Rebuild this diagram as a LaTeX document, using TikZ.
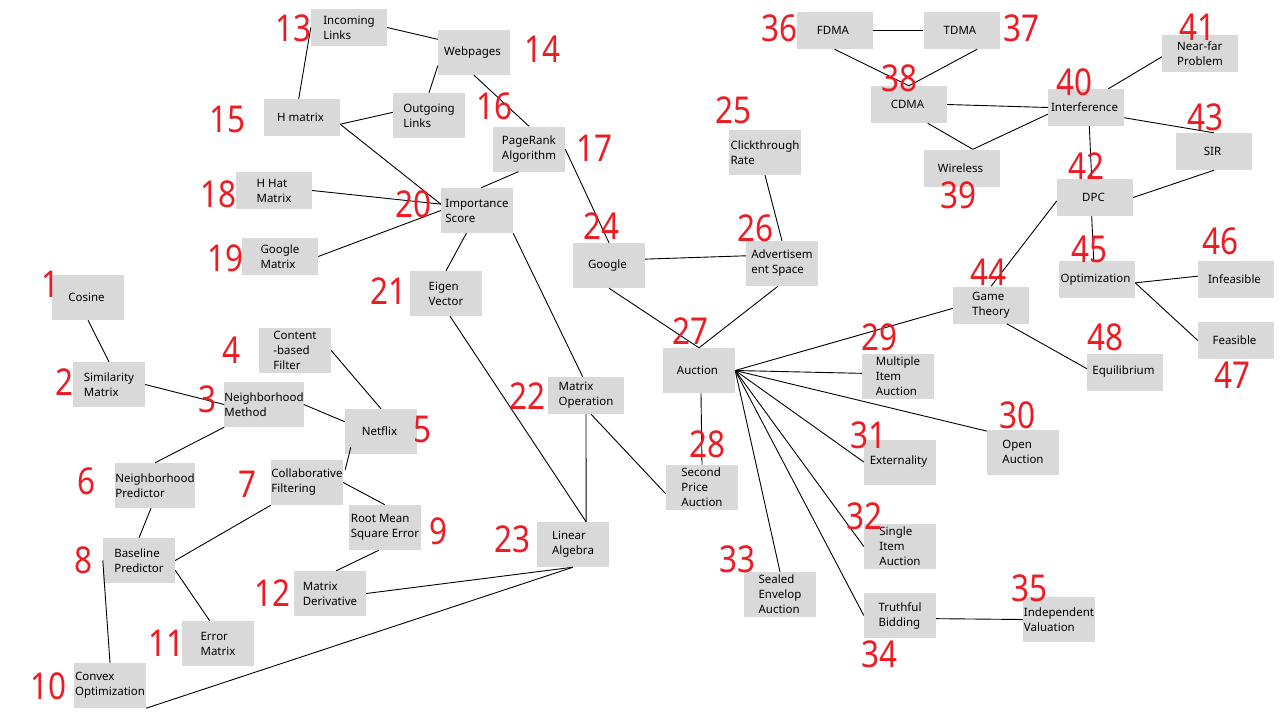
\documentclass[tikz,border=0pt]{standalone}
\usepackage{fontspec}
\setmainfont{Noto Sans}
\newfontfamily\numfont[FakeStretch=0.85]{Noto Sans}
\usepackage{tikz}
\usetikzlibrary{calc}

\definecolor{boxgray}{RGB}{217,217,217}
\definecolor{numred}{RGB}{237,28,36}

\begin{document}
\begin{tikzpicture}[x = 1pt, y = -1pt,
    box/.style = { fill = boxgray, minimum width = 72pt, minimum height = 45pt, inner sep = 0pt, align = left, font = \fontsize{11.5}{15}\selectfont },
    sbox/.style = { box, minimum width = 76pt, minimum height = 37pt },
    num/.style = { text = numred, inner sep = 0pt, font = \numfont\fontsize{37}{37}\selectfont },
    conn/.style = { line width = .9pt }]
    \fill[white] (0,0) rectangle (1280,720);
    \useasboundingbox (0,0) rectangle (1280,720);

    \node[box] (cos) at (88,297.5) { Cosine };
    \node[box] (sim) at (109,384.5) { Similarity\\Matrix };
    \node[box] (nbm) at (264,404.5) { Neighborhood\\Method };
    \node[box] (cbf) at (295,350.5) { Content\\-based\\Filter };
    \node[box] (nfx) at (381,431.5) { Netflix };
    \node[box] (nbp) at (155,485.5) { Neighborhood\\Predictor };
    \node[box] (cf) at (307,482.5) { Collaborative\\Filtering };
    \node[box] (blp) at (139,560.5) { Baseline\\Predictor };
    \node[box] (rmse) at (385,527.5) { Root Mean\\Square Error };
    \node[box] (cvx) at (110,685.5) { Convex\\Optimization };
    \node[box] (err) at (218,643.5) { Error\\Matrix };
    \node[box] (mder) at (330,593.5) { Matrix\\Derivative };
    \node[sbox] (inc) at (349,27.5) { Incoming\\Links };
    \node[box] (web) at (474,52.5) { Webpages };
    \node[sbox] (hmat) at (302,117.5) { H matrix };
    \node[box] (out) at (429,115.5) { Outgoing\\Links };
    \node[box] (prk) at (529,149) { PageRank\\Algorithm };
    \node[sbox] (hhat) at (274,190.5) { H Hat\\Matrix };
    \node[sbox] (gmat) at (280,256.5) { Google\\Matrix };
    \node[box] (imp) at (477,210.5) { Importance\\Score };
    \node[box] (eig) at (446,293.5) { Eigen\\Vector };
    \node[sbox] (mop) at (586,395.5) { Matrix\\Operation };
    \node[box] (lin) at (573,544.5) { Linear\\Algebra };
    \node[box] (ggl) at (609,265.5) { Google };
    \node[box] (ctr) at (765,152.5) { Clickthrough\\Rate };
    \node[box] (ads) at (782,263.5) { Advertisem\\ent Space };
    \node[box] (auc) at (699,370.5) { Auction };
    \node[box] (spa) at (702,487.5) { Second\\Price\\Auction };
    \node[box] (mia) at (898,376.5) { Multiple\\Item\\Auction };
    \node[box] (opa) at (1023,452) { Open\\Auction };
    \node[box] (ext) at (900,462) { Externality };
    \node[box] (sia) at (900,546.5) { Single\\Item\\Auction };
    \node[box] (sea) at (780,594.5) { Sealed\\Envelop\\Auction };
    \node[box] (tru) at (900,615.5) { Truthful\\Bidding };
    \node[box] (ind) at (1059,619.5) { Independent\\Valuation };
    \node[sbox] (fdma) at (834.5,30.5) { FDMA };
    \node[sbox] (tdma) at (961.5,30.5) { TDMA };
    \node[sbox] (cdma) at (909,104.5) { CDMA };
    \node[sbox] (wir) at (962,168) { Wireless };
    \node[sbox] (intf) at (1086,107.5) { Interference };
    \node[sbox] (nfp) at (1200,53.5) { Near-far\\Problem };
    \node[sbox] (dpc) at (1095,197.5) { DPC };
    \node[sbox] (sir) at (1214,151.5) { SIR };
    \node[sbox] (game) at (991,305) { Game\\Theory };
    \node[sbox] (opt) at (1097,279.5) { Optimization };
    \node[sbox] (infs) at (1236,279.5) { Infeasible };
    \node[sbox] (feas) at (1236,340.5) { Feasible };
    \node[sbox] (equ) at (1125,372) { Equilibrium };

    \draw[conn] (cos.south) -- (sim.north);
    \draw[conn] (sim.east) -- (nbm.west);
    \draw[conn] (nbm.east) -- (nfx.165);
    \draw[conn] (nbm.south west) -- (nbp.north);
    \draw[conn] (cbf.east) -- (nfx.north);
    \draw[conn] ($(nfx.south west)+(6,-7)$) -- ($(cf.north east)+(2,10)$);
    \draw[conn] (cf.south west) -- (blp.east);
    \draw[conn] (cf.east) -- (rmse.north);
    \draw[conn] (nbp.-100) -- (blp.north);
    \draw[conn] (blp.-15) -- (err.110);
    \draw[conn] (blp.west) -- (cvx.north);
    \draw[conn] (rmse.-105) -- (mder.75);
    \draw[conn] (mder.east) -- (lin.south);
    \draw[conn] (cvx.south east) -- (lin.south);
    \draw[conn] (inc.west) -- (hmat.100);
    \draw[conn] (inc.east) -- (web.160);
    \draw[conn] (web.200) -- (out.north);
    \draw[conn] (web.south) -- (prk.north);
    \draw[conn] (hmat.-10) -- (out.175);
    \draw[conn] (hmat.-10) -- (imp.170);
    \draw[conn] (hhat.east) -- (imp.170);
    \draw[conn] (gmat.east) -- (imp.west);
    \draw[conn] (prk.-115) -- (imp.80);
    \draw[conn] (prk.east) -- (ggl.north);
    \draw[conn] (imp.-115) -- (eig.north);
    \draw[conn] (imp.south east) -- (mop.100);
    \draw[conn] (eig.-80) -- (lin.60);
    \draw[conn] (mop.south) -- (lin.60);
    \draw[conn] (mop.-75) -- (spa.190);
    \draw[conn] (ggl.10) -- (ads.168);
    \draw[conn] (ggl.south) -- (auc.north);
    \draw[conn] (ctr.south) -- (ads.north);
    \draw[conn] (ads.-100) -- (auc.north);
    \draw[conn] (auc.-85) -- (spa.north);
    \foreach \t/\a in {game/185, mia/175, opa/150, ext/west, sia/west, tru/west, sea/north}
      \draw[conn] (auc.east) -- (\t.\a);
    \draw[conn] (tru.-5) -- (ind.west);
    \draw[conn] (fdma.east) -- (tdma.west);
    \draw[conn] (fdma.south) -- (cdma.north);
    \draw[conn] (tdma.-50) -- (cdma.north);
    \draw[conn] (cdma.east) -- (intf.west);
    \draw[conn] (cdma.-45) -- (wir.60);
    \draw[conn] (wir.60) -- (intf.190);
    \draw[conn] (intf.40) -- (nfp.185);
    \draw[conn] (intf.-15) -- (sir.north);
    \draw[conn] (intf.-80) -- (dpc.100);
    \draw[conn] (dpc.east) -- (sir.south);
    \draw[conn] (dpc.185) -- (game.north);
    \draw[conn] (dpc.-100) -- (opt.100);
    \draw[conn] (game.-50) -- (equ.175);
    \draw[conn] (opt.-5) -- (infs.175);
    \draw[conn] (opt.-5) -- (feas.west);

    \foreach \n/\x/\y in {1/50/284.5, 2/64.5/382.5, 3/207/399.5, 4/231.5/350, 5/422/429.5,
      6/86/481, 7/247/484, 8/83/560.5, 9/438/531, 10/48/686, 11/166.5/643, 12/272.5/593,
      13/293/28.5, 14/542/49.5, 15/227.5/119, 16/494/106, 17/594/148, 18/218.5/194.5,
      19/225/258, 20/413/204, 21/388/291.5, 22/527.5/396, 23/512/539.5, 24/601/226,
      25/733/110.5, 26/755/228, 27/690/331.5, 28/707.5/444.5, 29/879/337, 30/1017.5/415.5,
      31/868.5/435, 32/864.5/516, 33/737/559.5, 34/879/654, 35/1029/588, 36/779/28.5,
      37/1021.5/28.5, 38/899/78, 39/958/195.5, 40/1074.5/82.5, 41/1197.5/27, 42/1086/166.5,
      43/1205/117, 44/988.5/272.5, 45/1089/249, 46/1220/241, 47/1232/375, 48/1105/337.5}
      \node[num] (n\n) at (\x,\y) {\n};
\end{tikzpicture}
\end{document}
